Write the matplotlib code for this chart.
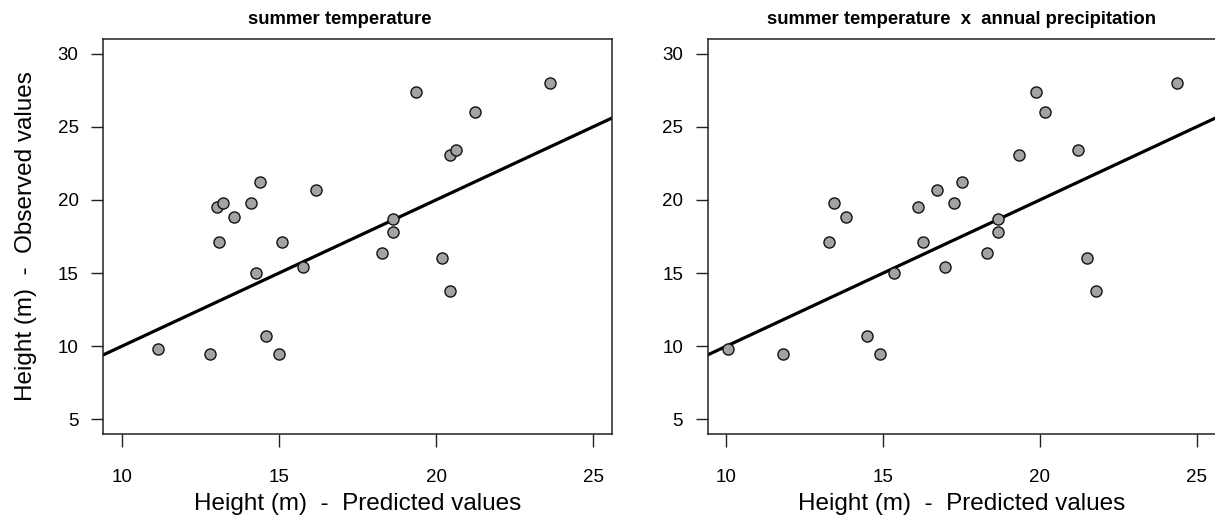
import numpy as np
import matplotlib.pyplot as plt

plt.rcParams['font.family'] = ['Liberation Sans', 'DejaVu Sans']

# observed heights (m), same trees in both panels
observed = [9.8, 9.5, 19.5, 19.8, 18.8, 17.1, 19.8, 21.2, 15.0, 10.7, 9.5, 17.1,
            15.4, 20.7, 16.4, 18.7, 17.8, 27.4, 16.0, 13.8, 23.1, 23.4, 26.0, 28.0]

# predicted by summer temperature
pred_temp = [11.14, 12.79, 13.04, 13.23, 13.58, 13.10, 14.12, 14.39, 14.27, 14.59, 15.00, 15.11,
             15.75, 16.17, 18.29, 18.63, 18.63, 19.36, 20.18, 20.43, 20.43, 20.63, 21.23, 23.64]

# predicted by summer temperature x annual precipitation
pred_temp_prec = [10.04, 11.82, 16.11, 13.43, 13.81, 13.29, 17.26, 17.53, 15.36, 14.49, 14.91, 16.27,
                  16.97, 16.72, 18.31, 18.67, 18.67, 19.86, 21.49, 21.78, 19.32, 21.22, 20.17, 24.38]

titles = ["summer temperature", "summer temperature  x  annual precipitation"]
xticks = [10, 15, 20, 25]
yticks = [5, 10, 15, 20, 25, 30]

fig = plt.figure(figsize=(12.15, 5.21), dpi=100)
ax1 = fig.add_axes([103/1215, 1 - 434/521, 509/1215, 395/521])
ax2 = fig.add_axes([707.5/1215, 1 - 434/521, 508/1215, 395/521])

for ax, pred, title in zip([ax1, ax2], [pred_temp, pred_temp_prec], titles):
    ax.set_xlim(9.4, 25.6)
    ax.set_ylim(4, 31)
    ax.axline((0, 0), slope=1, color="black", lw=2.3, zorder=2)
    ax.plot(pred, observed, "o", ms=8, mfc="#a3a3a3", mec="#111111", mew=1.0,
            zorder=3, clip_on=False)
    ax.set_xticks(xticks)
    ax.set_yticks(yticks)
    ax.tick_params(axis="both", direction="out", length=9, width=1.0,
                   labelsize=13.5, color="#222222")
    ax.tick_params(axis="x", pad=16)
    ax.tick_params(axis="y", pad=8.5)
    for s in ax.spines.values():
        s.set_linewidth(1.1)
        s.set_color("#222222")
    ax.set_title(title, fontsize=13.3, fontweight="bold", pad=11)
    ax.set_xlabel("Height (m)  -  Predicted values", fontsize=17.5)
    ax.xaxis.set_label_coords(0.5, -0.15)

ax1.title.set_x(0.466)
ax1.set_ylabel("Height (m)  -  Observed values", fontsize=17.5)
ax1.yaxis.set_label_coords(-0.13, 0.5)

plt.savefig("out.png", dpi=100)
